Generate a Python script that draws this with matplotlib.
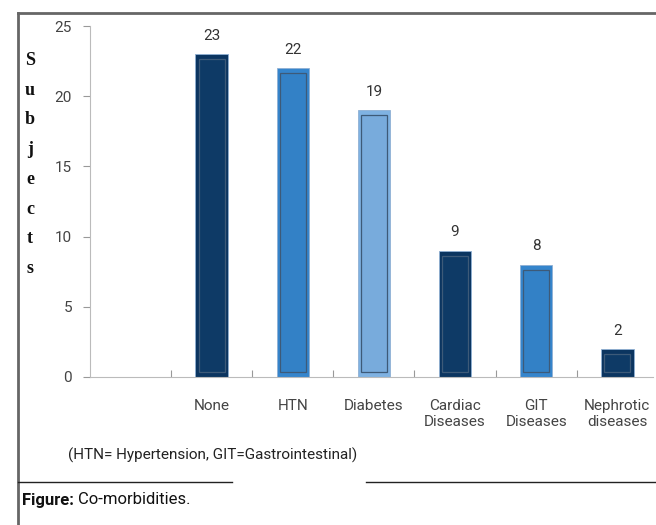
import matplotlib
matplotlib.use("Agg")
import matplotlib.pyplot as plt
from matplotlib import font_manager
from matplotlib.patches import Rectangle
from matplotlib.lines import Line2D

categories = ["", "None", "HTN", "Diabetes", "Cardiac\nDiseases", "GIT\nDiseases", "Nephrotic\ndiseases"]
subjects = [None, 23, 22, 19, 9, 8, 2]
bar_colors = [None, "#0b3560", "#3585cc", "#7fb2e2", "#0b3560", "#3585cc", "#0b3560"]
inner_colors = [None, "#0e3a66", "#3381c6", "#78abdc", "#0e3a66", "#3381c6", "#0e3a66"]
yticks = [0, 5, 10, 15, 20, 25]
note = "(HTN= Hypertension, GIT=Gastrointestinal)"

names = {f.name for f in font_manager.fontManager.ttflist}
narrow = "Liberation Sans Narrow" if "Liberation Sans Narrow" in names else "Roboto"
plt.rcParams["font.family"] = [narrow, "DejaVu Sans"]

W, H = 656, 525
fig = plt.figure(figsize=(W / 100, H / 100), dpi=100)
ax = fig.add_axes([90 / W, 1 - 377 / H, (653 - 90) / W, (377 - 26) / H])

xs = list(range(len(categories)))
for x, v, c, ic in zip(xs, subjects, bar_colors, inner_colors):
    if v is None:
        continue
    ax.bar(x, v, width=0.4, color=c, edgecolor="#8fb0d4", linewidth=0.6, zorder=2)
    # inner bevel panel
    ax.add_patch(Rectangle((x - 0.16, 0.35), 0.32, v - 0.7, facecolor=ic,
                           edgecolor="#3d5a78", linewidth=0.9, zorder=3))
    ax.text(x, v + 0.8, str(v), ha="center", va="bottom", fontsize=11, color="#333333")

ax.set_xlim(-0.5, 6.44)
ax.set_ylim(0, 25)
ax.set_yticks(yticks)
ax.set_xticks([i + 0.5 for i in range(6)])
ax.set_xticklabels([])
ax.set_xticks(xs[1:], categories[1:], minor=True)
ax.tick_params(axis="x", which="major", length=5, color="#999999", direction="in")
ax.tick_params(axis="x", which="minor", length=0, pad=16, labelsize=11, labelcolor="#444444")
ax.tick_params(axis="y", length=5, color="#999999", labelsize=11, labelcolor="#444444", pad=8)
ax.spines["top"].set_visible(False)
ax.spines["right"].set_visible(False)
ax.spines["left"].set_color("#bbbbbb")
ax.spines["bottom"].set_color("#bbbbbb")

fig.text(30 / W, 1 - 52 / H, "S\nu\nb\nj\ne\nc\nt\ns", ha="center", va="top",
         fontsize=13, fontweight="bold", family=["Liberation Serif", "DejaVu Serif"],
         linespacing=1.98, color="#111111")

fig.text(68 / W, 1 - 455 / H, note, ha="left", va="center", fontsize=11, color="#222222")
fig.text(22 / W, 1 - 500 / H, "Figure:", ha="left", va="center", fontsize=12,
         fontweight="bold", color="#111111")
fig.text(78 / W, 1 - 500 / H, "Co-morbidities.", ha="left", va="center", fontsize=12, color="#111111")

# frame lines
fig.add_artist(Line2D([18 / W, 1], [1 - 13 / H, 1 - 13 / H], color="#666666", lw=2))
fig.add_artist(Line2D([18 / W, 18 / W], [1 - 13 / H, 0], color="#666666", lw=2))
fig.add_artist(Line2D([18 / W, 232 / W], [1 - 482 / H, 1 - 482 / H], color="#222222", lw=1))
fig.add_artist(Line2D([366 / W, 1], [1 - 482 / H, 1 - 482 / H], color="#222222", lw=1))

fig.savefig("out.png", dpi=100)
